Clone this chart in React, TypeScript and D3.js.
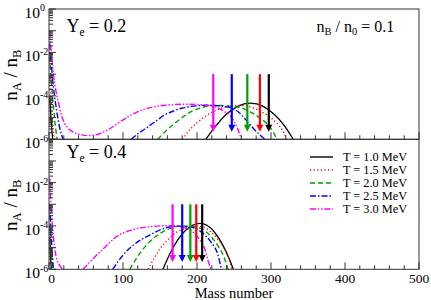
import React, { useEffect, useRef } from "react";
import * as d3 from "d3";

type Pt = [number, number];

// value 0 marks a gap (curve below 1e-6)
const seriesLabels = ["T = 1.0 MeV", "T = 1.5 MeV", "T = 2.0 MeV", "T = 2.5 MeV", "T = 3.0 MeV"];
const seriesColors = ["#000000", "#ff0000", "#00a000", "#0000ff", "#ff00ff"];
const seriesDash = ["none", "1.2,2.4", "5,3", "6,2,1.5,2", "6,1.8,1.5,1.8,1.5,1.8"];

// Ye = 0.2
const ye02_T10: Pt[] = [[1, 1e-4], [3, 6.3e-6], [5, 1e-6], [8, 0], [212, 1e-6], [225, 3.9e-6], [240, 1.45e-5], [255, 3.3e-5], [272, 4.6e-5], [290, 3.2e-5], [305, 1.35e-5], [318, 4.3e-6], [330, 1e-6]];
const ye02_T15: Pt[] = [[1, 1e-3], [3, 6.3e-5], [5, 6.3e-6], [7, 1e-6], [10, 0], [180, 1e-6], [192, 3.2e-6], [205, 7.9e-6], [218, 1.6e-5], [232, 2.6e-5], [246, 3.5e-5], [258, 3.6e-5], [270, 3.2e-5], [283, 2.2e-5], [296, 1.2e-5], [308, 5.5e-6], [315, 2.8e-6], [321, 1e-6]];
const ye02_T20: Pt[] = [[1, 6.3e-3], [3, 6.3e-4], [6, 3.2e-5], [9, 3.2e-6], [11, 1e-6], [14, 0], [147, 1e-6], [160, 2.8e-6], [170, 5.5e-6], [181, 1.07e-5], [192, 1.86e-5], [205, 2.8e-5], [218, 3.5e-5], [232, 3.6e-5], [246, 3.3e-5], [260, 2.8e-5], [275, 1.6e-5], [290, 7.1e-6], [300, 3.2e-6], [308, 1e-6]];
const ye02_T25: Pt[] = [[1, 2.5e-2], [3, 3.2e-3], [6, 2.5e-4], [10, 2.5e-5], [14, 4e-6], [19, 1e-6], [22, 0], [111, 1e-6], [122, 2e-6], [134, 3.8e-6], [145, 7.1e-6], [156, 1.3e-5], [168, 2e-5], [179, 2.7e-5], [190, 3.2e-5], [201, 3.5e-5], [213, 3.7e-5], [224, 3.6e-5], [236, 3.3e-5], [246, 2.8e-5], [256, 1.8e-5], [266, 7.9e-6], [276, 3.2e-6], [285, 1.6e-6], [292, 1e-6]];
const ye02_T30: Pt[] = [[1, 1e-1], [3, 1e-2], [6, 1e-3], [9, 2e-4], [12, 6.5e-5], [16, 1.6e-5], [21, 5.5e-6], [26, 3.2e-6], [32, 2.2e-6], [42, 1.66e-6], [53, 1.48e-6], [62, 1.58e-6], [70, 1.9e-6], [80, 2.8e-6], [93, 5.5e-6], [105, 1e-5], [116, 1.6e-5], [130, 2.5e-5], [143, 3.2e-5], [157, 3.7e-5], [170, 4e-5], [185, 4.1e-5], [201, 4e-5], [213, 3.7e-5], [224, 3.2e-5], [236, 2e-5], [245, 1.2e-5], [252, 5e-6], [256, 2.5e-6], [260, 1e-6]];

// Ye = 0.4
const ye04_T10: Pt[] = [[1, 3.2e-5], [3, 1e-6], [6, 0], [154, 1e-6], [164, 5.8e-6], [174, 2.3e-5], [184, 6e-5], [194, 1.07e-4], [204, 1.32e-4], [214, 1.05e-4], [224, 5e-5], [234, 1.5e-5], [244, 2.8e-6], [249, 1e-6]];
const ye04_T15: Pt[] = [[1, 1e-4], [3, 3.2e-6], [4, 1e-6], [7, 0], [134, 1e-6], [142, 3.2e-6], [150, 8.9e-6], [160, 2.2e-5], [172, 5e-5], [185, 8.3e-5], [197, 1e-4], [208, 8.9e-5], [218, 5.6e-5], [228, 2.5e-5], [237, 8.9e-6], [243, 3.2e-6], [247, 1e-6]];
const ye04_T20: Pt[] = [[1, 3.2e-4], [3, 1e-5], [5, 1e-6], [8, 0], [109, 1e-6], [120, 4e-6], [136, 1.86e-5], [150, 4.5e-5], [165, 7.9e-5], [180, 1e-4], [195, 9.5e-5], [207, 7.1e-5], [218, 3.5e-5], [228, 1.26e-5], [236, 4e-6], [242, 1e-6]];
const ye04_T25: Pt[] = [[1, 1e-3], [3, 3.2e-5], [6, 1e-6], [9, 0], [86, 1e-6], [100, 4.5e-6], [115, 1.4e-5], [136, 3.8e-5], [155, 7.6e-5], [172, 9.8e-5], [188, 9.3e-5], [200, 7.1e-5], [210, 4e-5], [220, 1.6e-5], [228, 5e-6], [233, 1e-6]];
const ye04_T30: Pt[] = [[1, 1.6e-2], [3, 6.3e-4], [6, 3.2e-5], [9, 5e-6], [14, 1.6e-6], [19, 1e-6], [22, 0], [46, 1e-6], [60, 3.2e-6], [75, 1e-5], [91, 3.2e-5], [110, 6.3e-5], [136, 9.3e-5], [155, 1.02e-4], [170, 1e-4], [185, 7.9e-5], [195, 5e-5], [204, 2.2e-5], [211, 7.9e-6], [215, 2.5e-6], [219, 1e-6]];

// arrow positions (mass number), T = 1.0 ... 3.0
const ye02_arrows = [297, 285, 268, 247, 222];
const ye04_arrows = [207, 199, 191, 180, 167];
const arrowFrom = 1e-3;
const arrowTo = 2.2e-6;

const xMajor = [0, 100, 200, 300, 400, 500];
const ye02_yLabels = [0, -2, -4, -6];
const ye04_yLabels = [-2, -4, -6];

const App: React.FC = () => {
  const ref = useRef<SVGSVGElement | null>(null);

  useEffect(() => {
    const svg = d3.select(ref.current);
    svg.selectAll("*").remove();
    const font = "'Liberation Serif', 'Times New Roman', serif";
    const frame = "#333";

    const x = d3.scaleLinear().domain([0, 500]).range([49, 419]);

    const panels = [
      { top: 9, bottom: 139.3, series: [ye02_T10, ye02_T15, ye02_T20, ye02_T25, ye02_T30], arrows: ye02_arrows, ye: "0.2", yeBase: 31.7, labels: ye02_yLabels },
      { top: 139.3, bottom: 269.3, series: [ye04_T10, ye04_T15, ye04_T20, ye04_T25, ye04_T30], arrows: ye04_arrows, ye: "0.4", yeBase: 158.3, labels: ye04_yLabels },
    ];

    panels.forEach((p, pi) => {
      const y = d3.scaleLog().domain([1e-6, 1]).range([p.bottom, p.top]);
      const g = svg.append("g");
      const clipId = `clip${pi}`;
      g.append("clipPath").attr("id", clipId)
        .append("rect").attr("x", 49).attr("y", p.top).attr("width", 370).attr("height", p.bottom - p.top);

      // curves
      const line = d3.line<Pt>()
        .defined(d => d[1] > 0)
        .x(d => x(d[0]))
        .y(d => y(d[1]))
        .curve(d3.curveMonotoneX);
      const cg = g.append("g").attr("clip-path", `url(#${clipId})`);
      p.series.forEach((s, i) => {
        cg.append("path")
          .attr("d", line(s))
          .attr("fill", "none")
          .attr("stroke", seriesColors[i])
          .attr("stroke-width", i === 0 ? 1.3 : 1.4)
          .attr("stroke-dasharray", seriesDash[i]);
      });

      // arrows
      p.arrows.forEach((a, i) => {
        const ax = x(a);
        const y0 = y(arrowFrom);
        const y1 = y(arrowTo);
        g.append("line")
          .attr("x1", ax).attr("x2", ax).attr("y1", y0).attr("y2", y1 - 5)
          .attr("stroke", seriesColors[i]).attr("stroke-width", 2.2);
        g.append("path")
          .attr("d", `M${ax - 3.5},${y1 - 7}L${ax + 3.5},${y1 - 7}L${ax},${y1}Z`)
          .attr("fill", seriesColors[i]);
      });

      // frame
      g.append("rect")
        .attr("x", 49).attr("y", p.top).attr("width", 370).attr("height", p.bottom - p.top)
        .attr("fill", "none").attr("stroke", frame).attr("stroke-width", 1);

      // x ticks (inward)
      d3.range(0, 501, 20).forEach(v => {
        const major = v % 100 === 0;
        g.append("line")
          .attr("x1", x(v)).attr("x2", x(v))
          .attr("y1", p.bottom).attr("y2", p.bottom - (major ? 7 : 4))
          .attr("stroke", frame).attr("stroke-width", 1);
      });

      // y ticks (inward)
      for (let e = -6; e <= 0; e++) {
        const yy = y(Math.pow(10, e));
        g.append("line").attr("x1", 49).attr("x2", 56).attr("y1", yy).attr("y2", yy)
          .attr("stroke", frame).attr("stroke-width", 1);
        if (e < 0) {
          for (let k = 2; k <= 9; k++) {
            const ym = y(k * Math.pow(10, e));
            g.append("line").attr("x1", 49).attr("x2", 53).attr("y1", ym).attr("y2", ym)
              .attr("stroke", frame).attr("stroke-width", 1);
          }
        }
      }

      // y tick labels
      p.labels.forEach(e => {
        const yy = y(Math.pow(10, e));
        g.append("text")
          .attr("x", 40).attr("y", yy + 9)
          .attr("font-family", font).attr("font-size", 15.5)
          .attr("text-anchor", "end").attr("fill", "#000")
          .text("10");
        g.append("text")
          .attr("x", 40).attr("y", yy + 2.3)
          .attr("font-family", font).attr("font-size", 10)
          .attr("fill", "#000")
          .text(e === 0 ? "0" : `-${-e}`);
      });

      // y axis title
      const cy = (p.top + p.bottom) / 2 + 1;
      const title = g.append("text")
        .attr("transform", `translate(17,${cy}) rotate(-90)`)
        .attr("font-family", font).attr("font-size", 19)
        .attr("text-anchor", "middle").attr("fill", "#000");
      title.append("tspan").text("n");
      title.append("tspan").attr("font-size", 12.5).attr("dy", 4).text("A");
      title.append("tspan").attr("dy", -4).text(" / n");
      title.append("tspan").attr("font-size", 12.5).attr("dy", 4).text("B");

      // Ye label
      const ye = g.append("text")
        .attr("x", 66.5).attr("y", p.yeBase)
        .attr("font-family", font).attr("font-size", 18).attr("fill", "#000");
      ye.append("tspan").text("Y");
      ye.append("tspan").attr("font-size", 11.5).attr("dy", 4).text("e");
      ye.append("tspan").attr("dy", -4).text(` = ${p.ye}`);
    });

    // density label
    const nb = svg.append("text")
      .attr("x", 316.5).attr("y", 31.7)
      .attr("font-family", font).attr("font-size", 16).attr("fill", "#000");
    nb.append("tspan").text("n");
    nb.append("tspan").attr("font-size", 10.5).attr("dy", 3.5).text("B");
    nb.append("tspan").attr("dy", -3.5).text(" / n");
    nb.append("tspan").attr("font-size", 10.5).attr("dy", 3.5).text("0");
    nb.append("tspan").attr("dy", -3.5).text(" = 0.1");

    // x tick labels
    xMajor.forEach(v => {
      svg.append("text")
        .attr("x", x(v) + (v === 0 ? 2.5 : 0)).attr("y", 282.6)
        .attr("font-family", font).attr("font-size", 13.5)
        .attr("text-anchor", "middle").attr("fill", "#000")
        .text(String(v));
    });

    svg.append("text")
      .attr("x", 234).attr("y", 298.3)
      .attr("font-family", font).attr("font-size", 14.5)
      .attr("text-anchor", "middle").attr("fill", "#000")
      .text("Mass number");

    // legend
    const rows = [157, 170, 183, 196, 209];
    seriesLabels.forEach((lab, i) => {
      svg.append("line")
        .attr("x1", 310).attr("x2", 333).attr("y1", rows[i]).attr("y2", rows[i])
        .attr("stroke", seriesColors[i]).attr("stroke-width", 1.4)
        .attr("stroke-dasharray", seriesDash[i]);
      svg.append("text")
        .attr("x", 343).attr("y", rows[i] + 4.2)
        .attr("font-family", font).attr("font-size", 12.3).attr("fill", "#000")
        .text(lab);
    });
  }, []);

  return (
    <svg
      ref={ref}
      width={431}
      height={300}
      style={{ position: "absolute", left: 0, top: 0, background: "#fff" }}
    />
  );
};

export default App;
